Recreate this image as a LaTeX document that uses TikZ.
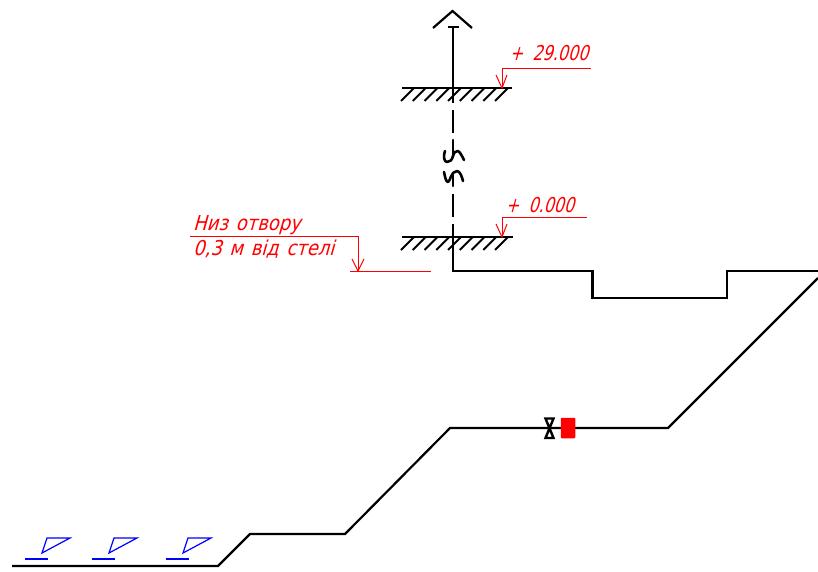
\documentclass[tikz,border=0pt]{standalone}
\usepackage{fontspec}
\setmainfont{Liberation Sans}
\newfontfamily\gostfont[FakeSlant=0.28,FakeStretch=0.78,WordSpace=1.8]{DejaVu Sans}
\newfontfamily\gostcyr[FakeSlant=0.28,FakeStretch=0.875,WordSpace=1.35]{DejaVu Sans}
\definecolor{dimred}{RGB}{255,0,0}
\definecolor{symblue}{RGB}{0,0,255}
\tikzset{
  pipe/.style={draw=black,line width=2.2pt,line join=miter},
  breakline/.style={draw=black,line width=2.6pt,line cap=round,line join=round},
  hatchline/.style={draw=black,line width=2pt},
  dimline/.style={draw=dimred,line width=1pt},
  symline/.style={draw=symblue,line width=1.2pt},
  dimtext/.style={text=dimred,anchor=base west,inner sep=0pt,font=\gostfont\fontsize{20.5}{20.5}\selectfont},
  cyrtext/.style={dimtext,font=\gostcyr\fontsize{20.5}{20.5}\selectfont}
}
\begin{document}
\begin{tikzpicture}[x=1pt,y=-1pt]
\useasboundingbox (0,0) rectangle (818,571);
% riser
\coordinate (capL) at (433,28); \coordinate (capT) at (452.5,11); \coordinate (capR) at (472,28);
\draw[pipe] (capL) -- (capT) -- (capR);
\coordinate (teeL) at (448,27); \coordinate (teeR) at (459,27); \coordinate (riserTop) at (453,27);
\coordinate (seg1end) at (453,103);
\draw[pipe] (teeL) -- (teeR);
\draw[pipe] (riserTop) -- (seg1end);
\coordinate (seg2a) at (453,110); \coordinate (seg2b) at (453,133);
\draw[pipe] (seg2a) -- (seg2b);
% break symbols
\coordinate (brA) at (453,140); \coordinate (brB) at (453,186);
\draw[breakline] (brA) -- (453,157);
\draw[breakline] (453,156) .. controls (454,152) and (456,151) .. (458,151) .. controls (460,152) and (462,156) .. (464,160);
\draw[breakline] (445,151) .. controls (443,156) and (444,162) .. (447,162) .. controls (450,162) and (452,160) .. (453,156);
\draw[breakline] (444,172) .. controls (445,177) and (446,182) .. (448,182) .. controls (450,182) and (451,171) .. (457,171) .. controls (460,171) and (462,177) .. (463,181);
\draw[breakline] (453,175) -- (brB);
\coordinate (seg3a) at (453,194); \coordinate (seg3b) at (453,217);
\draw[pipe] (seg3a) -- (seg3b);
% upper pipe run
\coordinate (p0) at (453,224); \coordinate (p1) at (453,271); \coordinate (p2) at (592.5,271);
\coordinate (p3) at (592.5,298); \coordinate (p4) at (727,298); \coordinate (p5) at (727,271); \coordinate (p6) at (818,271);
\draw[pipe] (p0) -- (p1) -- (p2) -- (p3) -- (p4) -- (p5) -- (p6);
% lower pipe run
\coordinate (q0) at (12,566); \coordinate (q1) at (218,566); \coordinate (q2) at (250,534); \coordinate (q3) at (345,534);
\coordinate (q4) at (450,428); \coordinate (q5) at (668,428); \coordinate (q6) at (818,278);
\draw[pipe] (q0) -- (q1) -- (q2) -- (q3) -- (q4) -- (q5) -- (q6);
% levels
\foreach \ly/\xa/\xb in {88/402/512,237/402/513}{
  \draw[pipe] (\xa,\ly) -- (\xb,\ly);
  \foreach \k in {0,...,8}{
    \draw[hatchline] ({401+\k*11.75},\ly+13) -- ({414+\k*11.75},\ly);
  }
}
% valve and device
\draw[draw=black,line width=2.4pt,fill=white,line join=miter] (545.5,418.5) -- (553.5,418.5) -- (545.5,438) -- (553.5,438) -- cycle;
\node[draw=none,fill=dimred,minimum width=14.5pt,minimum height=20.5pt,inner sep=0pt,rounded corners=0.8pt] (device) at (568,428) {};
% red dimension lines
\coordinate (a1) at (591,68); \coordinate (a2) at (502,68); \coordinate (a3) at (502,88);
\draw[dimline] (a1) -- (a2) -- (a3);
\draw[dimline] (496,75) -- (a3) -- (507,75);
\coordinate (b1) at (587,217); \coordinate (b2) at (502,217); \coordinate (b3) at (502,237);
\draw[dimline] (b1) -- (b2) -- (b3);
\draw[dimline] (496,224) -- (b3) -- (507,224);
\coordinate (c1) at (190,236); \coordinate (c2) at (358,236); \coordinate (c3) at (358,271);
\coordinate (d1) at (350,271); \coordinate (d2) at (431,271);
\draw[dimline] (c1) -- (c2) -- (c3);
\draw[dimline] (d1) -- (d2);
\draw[dimline] (352,259) -- (c3) -- (364,259);
% red texts
\node[dimtext] (t1) at (509.5,60) {+ 29.000};
\node[dimtext] (t2) at (505.5,212) {+ 0.000};
\node[cyrtext] (t3) at (193,230) {Низ отвору};
\node[cyrtext] (t4) at (193,255) {0,3 м від стелі};
% blue symbols
\foreach \bx in {25,92,166}{
  \draw[symline] (\bx,559) -- (\bx+23,559);
  \draw[symline,line join=miter] (\bx+17,553) -- (\bx+22,538) -- (\bx+45,538) -- cycle;
}
\end{tikzpicture}
\end{document}
